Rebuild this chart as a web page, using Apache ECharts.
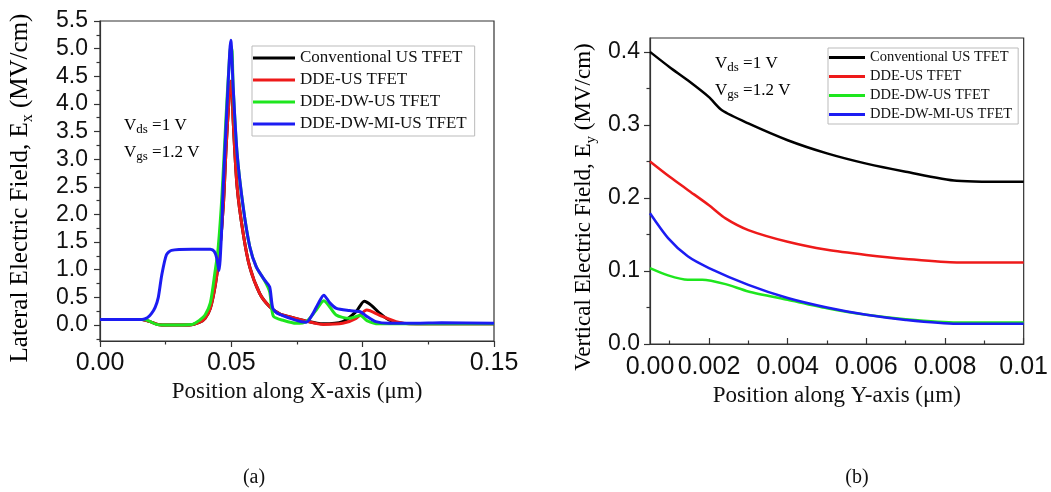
<!DOCTYPE html>
<html lang="en">
<head>
<meta charset="UTF-8" />
<title>Lateral and vertical electric field</title>
<style>
  html, body { margin: 0; padding: 0; background: #fff; }
  #app { width: 1051px; height: 492px; }
</style>
</head>
<body>
<div id="app"></div>
<script src="https://cdn.jsdelivr.net/npm/echarts@6/dist/echarts.min.js"></script>
<script>
var names = ['Conventional US TFET', 'DDE-US TFET', 'DDE-DW-US TFET', 'DDE-DW-MI-US TFET']
var colors = ['#000000', '#ee1a1a', '#1ee61e', '#1c1cf2']

// (a) lateral field Ex (MV/cm) vs position along X (um)
var exConv = [[0, 0.1], [0.016, 0.1], [0.019, 0.06], [0.022, 0.01], [0.026, 0], [0.034, 0], [0.038, 0.05], [0.04, 0.12],
  [0.042, 0.3], [0.044, 0.75], [0.0455, 1.3], [0.047, 2.2], [0.048, 3.2], [0.049, 4.0], [0.0498, 4.41], [0.0503, 4.3],
  [0.0507, 3.7], [0.0522, 2.5], [0.0545, 1.66], [0.057, 1.05], [0.0608, 0.57], [0.0646, 0.33], [0.0684, 0.2],
  [0.072, 0.15], [0.0785, 0.07], [0.085, 0.02], [0.0924, 0.06], [0.0975, 0.24], [0.1006, 0.43], [0.1032, 0.36],
  [0.1063, 0.22], [0.11, 0.09], [0.115, 0.03], [0.13, 0.02], [0.15, 0.02]]
var exDde = [[0, 0.1], [0.016, 0.1], [0.019, 0.06], [0.022, 0.01], [0.026, 0], [0.034, 0], [0.038, 0.05], [0.04, 0.12],
  [0.042, 0.3], [0.044, 0.75], [0.0455, 1.3], [0.047, 2.2], [0.048, 3.2], [0.049, 4.0], [0.0498, 4.41], [0.0503, 4.3],
  [0.0507, 3.7], [0.0522, 2.5], [0.0545, 1.66], [0.057, 1.05], [0.0608, 0.57], [0.0646, 0.33], [0.0684, 0.2],
  [0.072, 0.15], [0.0785, 0.07], [0.085, 0.01], [0.0924, 0.03], [0.0975, 0.12], [0.1016, 0.27], [0.1063, 0.18],
  [0.1127, 0.06], [0.1178, 0.02], [0.13, 0.02], [0.15, 0.02]]
var exDdeDw = [[0, 0.1], [0.017, 0.1], [0.0215, 0.01], [0.025, 0], [0.035, 0.01], [0.038, 0.09], [0.04, 0.18],
  [0.042, 0.4], [0.0437, 0.93], [0.045, 1.4], [0.0465, 2.4], [0.0479, 3.7], [0.049, 4.6], [0.0498, 5.05], [0.0503, 4.95],
  [0.0507, 4.3], [0.0522, 3.1], [0.0545, 2.14], [0.057, 1.42], [0.0595, 1.05], [0.0627, 0.8], [0.0646, 0.6],
  [0.066, 0.16], [0.07, 0.08], [0.0747, 0.03], [0.0785, 0.06], [0.082, 0.25], [0.0852, 0.44], [0.0899, 0.18],
  [0.0949, 0.12], [0.0991, 0.17], [0.1016, 0.08], [0.106, 0.02], [0.15, 0.02]]
var exDdeDwMi = [[0, 0.1], [0.016, 0.1], [0.018, 0.13], [0.0195, 0.2], [0.021, 0.32], [0.0222, 0.5], [0.0235, 0.9],
  [0.0253, 1.27], [0.0272, 1.35], [0.035, 1.37], [0.042, 1.37], [0.0435, 1.33], [0.0445, 1.2], [0.0453, 0.98],
  [0.0462, 1.6], [0.0469, 2.5], [0.0484, 4.0], [0.0494, 4.95], [0.0498, 5.15], [0.0507, 4.3], [0.0522, 3.1],
  [0.0545, 2.14], [0.057, 1.42], [0.0595, 1.05], [0.0627, 0.81], [0.0646, 0.69], [0.0658, 0.3], [0.068, 0.2],
  [0.0785, 0.05], [0.081, 0.2], [0.083, 0.38], [0.0852, 0.54], [0.0875, 0.4], [0.09, 0.3], [0.095, 0.26],
  [0.0991, 0.24], [0.1014, 0.16], [0.105, 0.06], [0.11, 0.03], [0.12, 0.03], [0.13, 0.04], [0.15, 0.03]]

var xTicksA = [0, 0.05, 0.1, 0.15]
var xMinorA = [0.025, 0.075, 0.125]
var yTicksA = [0, 0.5, 1, 1.5, 2, 2.5, 3, 3.5, 4, 4.5, 5, 5.5]
var yMinorA = [-0.25, 0.25, 0.75, 1.25, 1.75, 2.25, 2.75, 3.25, 3.75, 4.25, 4.75, 5.25]

// (b) vertical field Ey (MV/cm) vs position along Y (um)
var eyConv = [[0.0005, 0.4], [0.001, 0.379], [0.00146, 0.361], [0.002, 0.338], [0.00233, 0.32], [0.003, 0.302],
  [0.004, 0.279], [0.005, 0.261], [0.006, 0.247], [0.007, 0.236], [0.0083, 0.2236], [0.01, 0.222]]
var eyDde = [[0.0005, 0.25], [0.001, 0.229], [0.00146, 0.211], [0.002, 0.19], [0.00242, 0.172], [0.003, 0.156],
  [0.004, 0.14], [0.005, 0.129], [0.006, 0.122], [0.007, 0.1165], [0.0083, 0.1116], [0.01, 0.1116]]
var eyDdeDw = [[0.0005, 0.104], [0.00096, 0.094], [0.00146, 0.088], [0.00183, 0.088], [0.00242, 0.082],
  [0.003, 0.072], [0.004, 0.0605], [0.005, 0.049], [0.006, 0.04], [0.007, 0.034], [0.0083, 0.0296], [0.01, 0.0296]]
var eyDdeDwMi = [[0.0005, 0.179], [0.00096, 0.145], [0.00146, 0.12], [0.002, 0.104], [0.003, 0.081], [0.004, 0.063],
  [0.005, 0.05], [0.006, 0.04], [0.007, 0.033], [0.0083, 0.0278], [0.01, 0.0278]]

var xLabelsB = [0.0005, 0.002, 0.004, 0.006, 0.008, 0.01]
var xLabelTextB = ['0.00', '0.002', '0.004', '0.006', '0.008', '0.01']
var xTicksB = [0.002, 0.004, 0.006, 0.008, 0.01]
var xMinorB = [0.001, 0.003, 0.005, 0.007, 0.009]
var yTicksB = [0, 0.1, 0.2, 0.3, 0.4]
var yMinorB = [0.05, 0.15, 0.25, 0.35]

var axisColor = '#333'
var sans = 'Liberation Sans, Arial, sans-serif'
var serif = 'Liberation Serif, Times New Roman, serif'

function axis(o) {
  return {
    type: 'value',
    gridIndex: o.grid,
    position: o.position,
    min: o.min,
    max: o.max,
    splitLine: { show: false },
    axisLine: { show: !o.minor, onZero: false, lineStyle: { color: axisColor, width: 1.2 } },
    axisTick: {
      show: true,
      inside: !!o.inside,
      length: o.minor ? 3.5 : 6,
      customValues: o.ticks,
      lineStyle: { color: axisColor, width: 1.2 }
    },
    axisLabel: {
      show: !o.minor,
      customValues: o.labels,
      formatter: o.formatter,
      fontFamily: sans,
      fontSize: o.fontSize,
      color: '#111',
      margin: o.margin
    },
    name: o.name,
    nameLocation: 'middle',
    nameGap: o.nameGap,
    nameTextStyle: { fontFamily: serif, fontSize: 23, color: '#111' }
  }
}

function lineSeries(name, data, idx, xi, yi, width) {
  return {
    name: name,
    type: 'line',
    xAxisIndex: xi,
    yAxisIndex: yi,
    data: data,
    showSymbol: false,
    symbol: 'none',
    smooth: 0.25,
    color: colors[idx],
    lineStyle: { color: colors[idx], width: width },
    z: 2 + idx
  }
}

function subText(main, sub, rest, size, subSize, lh) {
  return {
    text: '{m|' + main + '}{s|' + sub + '}{m|' + rest + '}',
    rich: {
      m: { fontFamily: serif, fontSize: size, lineHeight: lh, color: '#111' },
      s: { fontFamily: serif, fontSize: subSize, lineHeight: Math.round(subSize * 0.8), verticalAlign: 'bottom', color: '#111' }
    }
  }
}

function label(x, y, main, sub, rest, size, subSize, rot, align) {
  var t = subText(main, sub, rest, size, subSize, Math.round(size * 1.25))
  return {
    type: 'text',
    x: x,
    y: y,
    rotation: rot || 0,
    style: {
      text: t.text,
      rich: t.rich,
      align: align || 'left',
      textAlign: align || 'left',
      verticalAlign: 'middle',
      textVerticalAlign: 'middle'
    }
  }
}

var chart = echarts.init(document.getElementById('app'))
chart.setOption({
  animation: false,
  backgroundColor: '#fff',
  grid: [
    { left: 100, top: 21, width: 394, height: 320, show: true, borderColor: axisColor, borderWidth: 1.2 },
    { left: 650, top: 38, width: 381, height: 306, show: true, borderColor: axisColor, borderWidth: 1.2 }
  ],
  xAxis: [
    axis({ grid: 0, position: 'bottom', min: 0, max: 0.15, ticks: xTicksA, labels: xTicksA, fontSize: 25, margin: 10,
      formatter: function (v) { return v.toFixed(2) }, name: 'Position along X-axis (\u03bcm)', nameGap: 39 }),
    axis({ grid: 0, position: 'bottom', min: 0, max: 0.15, ticks: xMinorA, minor: true }),
    axis({ grid: 1, position: 'bottom', min: 0.0005, max: 0.01, ticks: xTicksB, labels: xLabelsB, inside: true,
      fontSize: 25, margin: 11, name: 'Position along Y-axis (\u03bcm)', nameGap: 39,
      formatter: function (v) {
        for (var i = 0; i < xLabelsB.length; i++) if (Math.abs(xLabelsB[i] - v) < 1e-9) return xLabelTextB[i]
        return ''
      } }),
    axis({ grid: 1, position: 'bottom', min: 0.0005, max: 0.01, ticks: xMinorB, minor: true, inside: true })
  ],
  yAxis: [
    axis({ grid: 0, position: 'left', min: -0.29, max: 5.5, ticks: yTicksA, labels: yTicksA, fontSize: 23, margin: 12,
      formatter: function (v) { return v.toFixed(1) } }),
    axis({ grid: 0, position: 'left', min: -0.29, max: 5.5, ticks: yMinorA, minor: true }),
    axis({ grid: 1, position: 'left', min: 0, max: 0.419, ticks: yTicksB, labels: yTicksB, fontSize: 23, margin: 10,
      formatter: function (v) { return v.toFixed(1) } }),
    axis({ grid: 1, position: 'left', min: 0, max: 0.419, ticks: yMinorB, minor: true })
  ],
  legend: [
    {
      data: names, orient: 'vertical', left: 252, top: 46, icon: 'rect', itemWidth: 42, itemHeight: 3, itemGap: 4,
      padding: [3, 8, 3, 1], borderColor: '#bbb', borderWidth: 1, selectedMode: false,
      textStyle: { fontFamily: serif, fontSize: 17, lineHeight: 18, color: '#111' }
    },
    {
      data: names, orient: 'vertical', left: 828, top: 48, icon: 'rect', itemWidth: 36, itemHeight: 3, itemGap: 4,
      padding: [2, 6, 2, 1], borderColor: '#bbb', borderWidth: 1, selectedMode: false,
      textStyle: { fontFamily: serif, fontSize: 14.5, lineHeight: 15, color: '#111' }
    }
  ],
  graphic: [
    label(20, 188, 'Lateral Electric Field, E', 'x', ' (MV/cm)', 25, 16, Math.PI / 2, 'center'),
    label(584, 207, 'Vertical Electric Field, E', 'y', ' (MV/cm)', 23, 15, Math.PI / 2, 'center'),
    label(124, 126, 'V', 'ds', ' =1 V', 17, 13),
    label(124, 153, 'V', 'gs', ' =1.2 V', 17, 13),
    label(715, 64, 'V', 'ds', ' =1 V', 17, 13),
    label(715, 91, 'V', 'gs', ' =1.2 V', 17, 13),
    { type: 'text', x: 254, y: 478, style: { text: '(a)', font: '20px ' + serif, fill: '#111', align: 'center', textAlign: 'center', verticalAlign: 'middle', textVerticalAlign: 'middle' } },
    { type: 'text', x: 857, y: 478, style: { text: '(b)', font: '20px ' + serif, fill: '#111', align: 'center', textAlign: 'center', verticalAlign: 'middle', textVerticalAlign: 'middle' } }
  ],
  series: [
    lineSeries(names[0], exConv, 0, 0, 0, 3),
    lineSeries(names[1], exDde, 1, 0, 0, 3),
    lineSeries(names[2], exDdeDw, 2, 0, 0, 3),
    lineSeries(names[3], exDdeDwMi, 3, 0, 0, 3),
    lineSeries(names[0], eyConv, 0, 2, 2, 2.5),
    lineSeries(names[1], eyDde, 1, 2, 2, 2.5),
    lineSeries(names[2], eyDdeDw, 2, 2, 2, 2.5),
    lineSeries(names[3], eyDdeDwMi, 3, 2, 2, 2.5)
  ]
})
</script>
</body>
</html>
